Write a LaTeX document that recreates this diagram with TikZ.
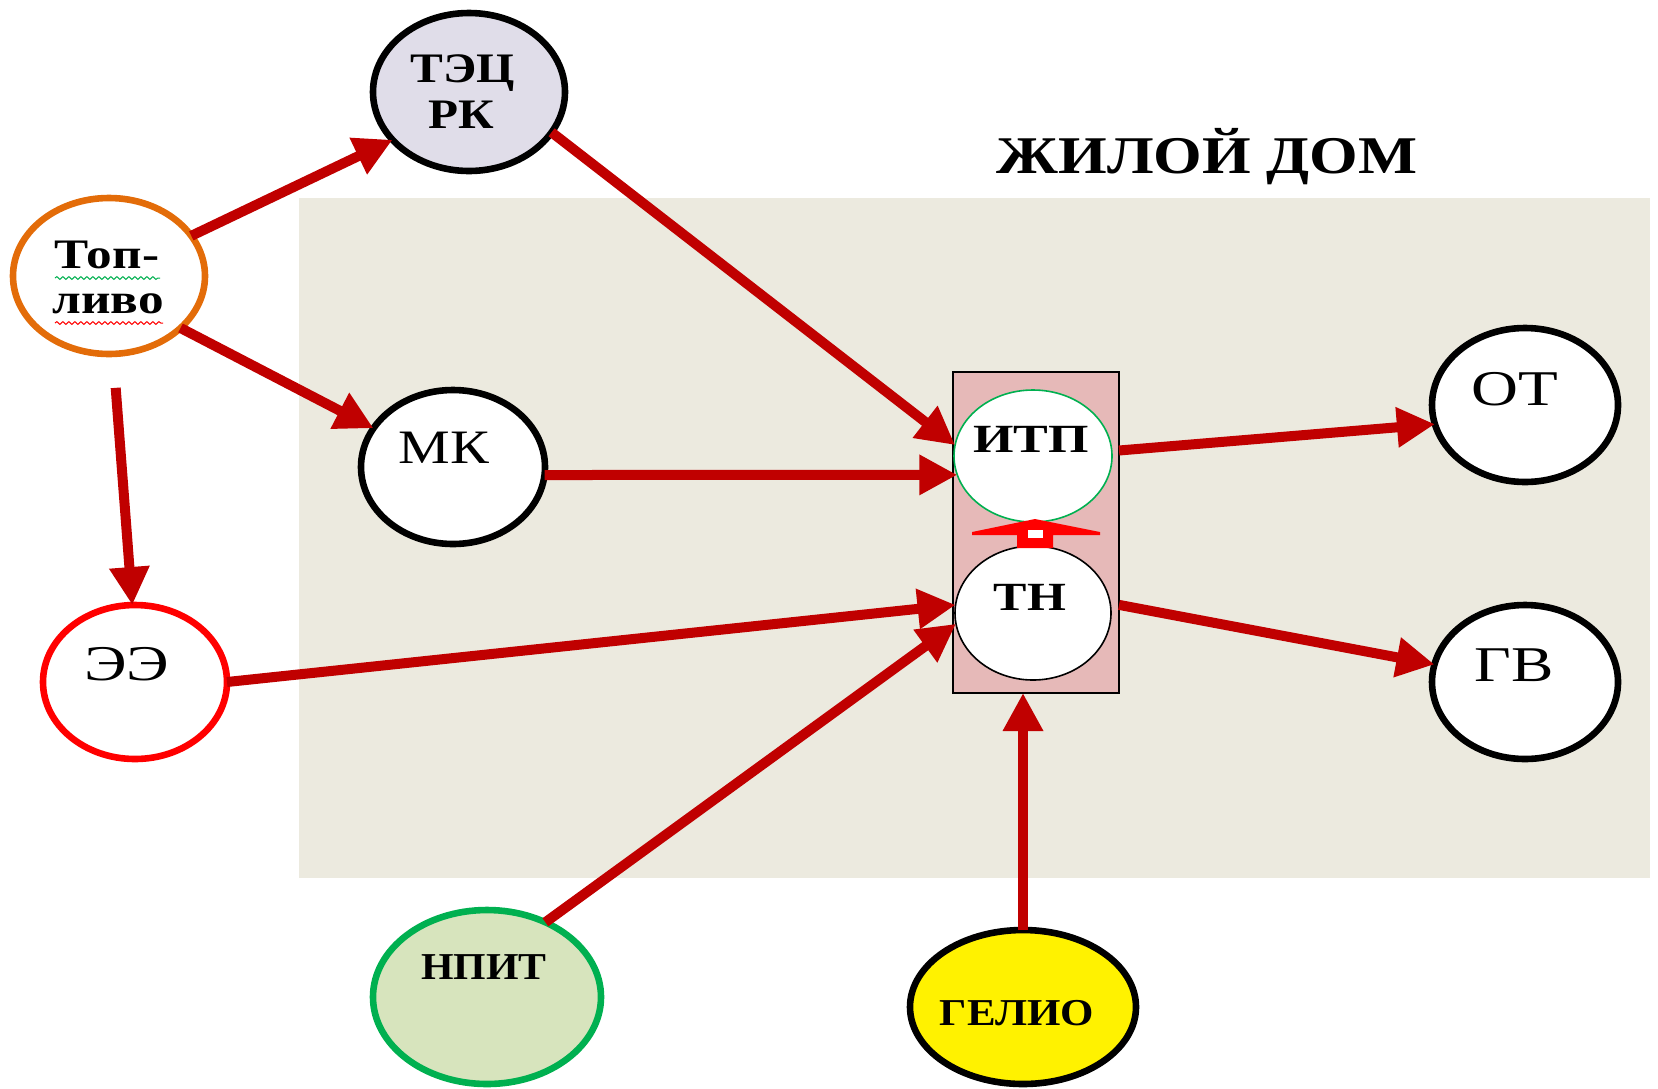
\documentclass[tikz,border=0pt]{standalone}
\usepackage{fontspec}
\setmainfont{Liberation Serif}
\usetikzlibrary{arrows.meta,shapes.geometric,decorations.pathmorphing}
\definecolor{bgbeige}{HTML}{ECEADF}
\definecolor{arrowred}{HTML}{C00000}
\definecolor{lavender}{HTML}{E0DDE9}
\definecolor{oliveleaf}{HTML}{D7E4BD}
\definecolor{greenline}{HTML}{00B050}
\definecolor{orangeline}{HTML}{E36C09}
\definecolor{boxpink}{HTML}{E6B9B8}
\newcommand{\hstretch}[2]{\scalebox{#1}[1]{#2}}
\begin{document}
\begin{tikzpicture}[x=0.5pt,y=-0.5pt,
  oval/.style={ellipse,draw,line width=3.3pt,inner sep=0pt,outer sep=0pt,fill=white},
  thinoval/.style={ellipse,draw,line width=0.8pt,inner sep=0pt,outer sep=0pt,fill=white},
  flow/.style={draw=arrowred,line width=5pt,-{Triangle[length=19pt,width=19pt]}},
  rlbl/.style={font=\fontsize{25}{28}\selectfont,inner sep=0pt,anchor=base},
  blbl/.style={font=\bfseries\fontsize{20}{24}\selectfont,inner sep=0pt,anchor=base},
  squiggle/.style={decorate,decoration={snake,amplitude=0.7pt,segment length=3pt},line width=0.5pt}]
\useasboundingbox (0,0) rectangle (1658,1088);
\fill[bgbeige] (299,198) rectangle (1650,878);

\node[font=\bfseries\fontsize{26.5}{30}\selectfont,inner sep=0pt,anchor=base] (house) at (1207,173) {\hstretch{1.18}{ЖИЛОЙ ДОМ}};

% ITP/TN block
\node[draw,line width=0.8pt,fill=boxpink,minimum width=83pt,minimum height=160.5pt,inner sep=0pt,outer sep=0pt] (box) at (1036,532.5) {};
\node[thinoval,draw=greenline,minimum width=79pt,minimum height=66pt] (itp) at (1033,456) {};
\node[thinoval,draw=black,minimum width=78pt,minimum height=67pt] (tn) at (1033,613) {};
\fill[red] (972,532) -- (1035,519) -- (1100,532) -- (1100,535) -- (1053,535) -- (1053,548)
  -- (1017,548) -- (1017,535) -- (972,535) -- cycle;
\fill[white] (1028,530) rectangle (1043,538);
\node[blbl] (itp-t) at (1031,452) {\hstretch{1.3}{ИТП}};
\node[blbl] (tn-t) at (1030,610) {\hstretch{1.25}{ТН}};

% outer ellipses
\node[oval,fill=lavender,minimum width=96pt,minimum height=79pt] (tec) at (469,92) {};
\node[blbl,font=\bfseries\fontsize{21}{24}\selectfont] (tec-t1) at (463,82) {\hstretch{1.17}{ТЭЦ}};
\node[blbl,font=\bfseries\fontsize{21}{24}\selectfont] (tec-t2) at (461,128) {\hstretch{1.17}{РК}};

\node[oval,draw=orangeline,minimum width=96pt,minimum height=78pt] (top) at (109,276) {};
\node[blbl,font=\bfseries\fontsize{21}{24}\selectfont] (top-t1) at (107,268) {\hstretch{1.22}{Топ-}};
\node[blbl,font=\bfseries\fontsize{21}{24}\selectfont] (top-t2) at (108,313) {\hstretch{1.22}{ливо}};
\draw[greenline,squiggle] (55,278) -- (160,278);
\draw[red,squiggle] (55,323) -- (163,323);

\node[oval,minimum width=92pt,minimum height=77pt] (mk) at (453,467) {};
\node[rlbl,font=\fontsize{24}{28}\selectfont] (mk-t) at (444,463) {\hstretch{1.21}{МК}};

\node[oval,draw=red,minimum width=92pt,minimum height=77pt] (ee) at (135,682) {};
\node[rlbl] (ee-t) at (127,680) {\hstretch{1.29}{ЭЭ}};

\node[oval,minimum width=93pt,minimum height=77pt] (ot) at (1525,405) {};
\node[rlbl] (ot-t) at (1515,405) {\hstretch{1.3}{ОТ}};

\node[oval,minimum width=93pt,minimum height=77pt] (gv) at (1525,682) {};
\node[rlbl] (gv-t) at (1514,681) {\hstretch{1.27}{ГВ}};

\node[oval,draw=greenline,fill=oliveleaf,minimum width=114pt,minimum height=87pt] (npit) at (487,997) {};
\node[blbl,font=\bfseries\fontsize{19}{22}\selectfont] (npit-t) at (484,979) {\hstretch{1.1}{НПИТ}};

\node[oval,fill=yellow,minimum width=113pt,minimum height=77pt] (gelio) at (1023,1007) {};
\node[blbl,font=\bfseries\fontsize{19}{22}\selectfont] (gelio-t) at (1017,1025) {\hstretch{1.13}{ГЕЛИО}};

% connectors
\draw[flow] (top.26) -- (tec.212);
\draw[flow] (top.-36) -- (mk.154);
\draw[flow,shorten <=17pt] (top.-87) -- (ee.92);
\draw[flow] (tec.-26) -- (itp.172);
\draw[flow] (mk.-5) -- (itp.194);
\draw[flow] (ee.0) -- (tn.174);
\draw[flow] (npit.52) -- (tn.188);
\draw[flow] (gelio.north) -- (gelio.north |- box.south);
\draw[flow] (box.east |- itp.4) -- (ot.192);
\draw[flow] (box.east |- tn.6) -- (gv.169);
\end{tikzpicture}
\end{document}
